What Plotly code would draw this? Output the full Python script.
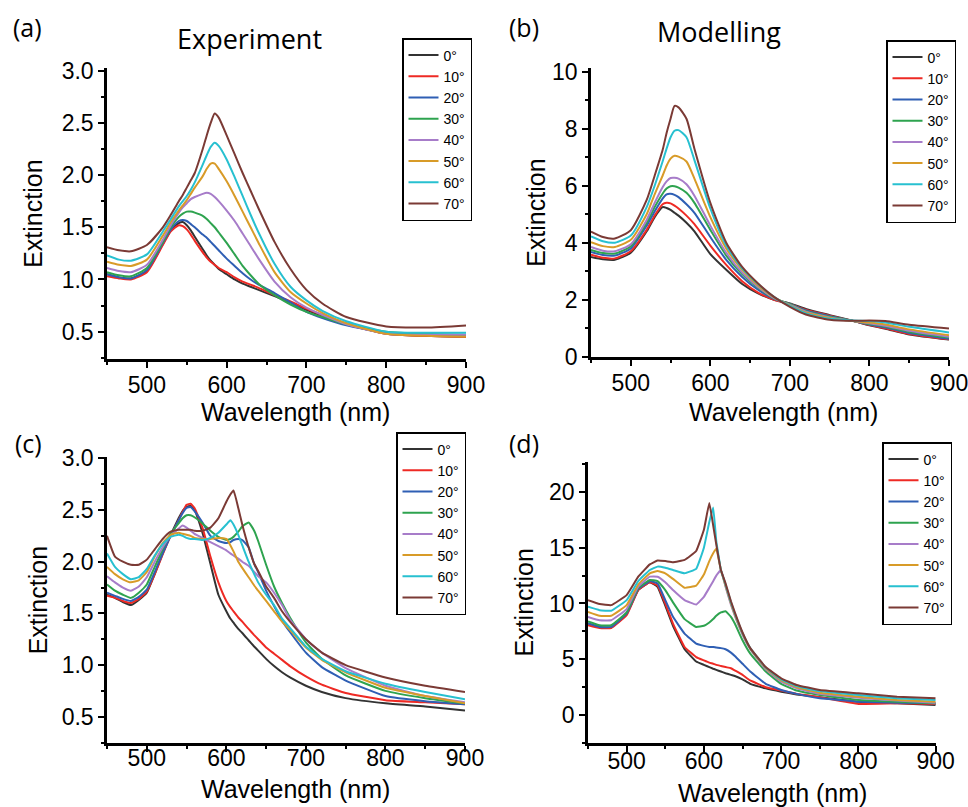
import plotly.graph_objects as go

# ---- shared series info ----
ANGLES = ["0°", "10°", "20°", "30°", "40°", "50°", "60°", "70°"]
COLORS = ["#333333", "#ee2a24", "#2f5fb4", "#2ea34f", "#a77cc9", "#d89b28", "#27c0d0", "#7b3a35"]
X_TITLE = "Wavelength (nm)"
Y_TITLE = "Extinction"

# ---- (a) Experiment, extinction spectra ----
WL_A = [450, 465, 480, 500, 520, 530, 540, 545, 550, 555, 560, 570, 575, 580, 585, 590,
        600, 610, 620, 630, 640, 660, 680, 700, 720, 750, 800, 850, 900]
A_00 = [1.05, 1.02, 1.01, 1.08, 1.34, 1.47, 1.54, 1.55, 1.52, 1.47, 1.41, 1.29, 1.23, 1.18, 1.14, 1.10,
        1.05, 1.00, 0.96, 0.93, 0.90, 0.84, 0.78, 0.71, 0.65, 0.57, 0.48, 0.46, 0.45]
A_10 = [1.03, 1.01, 1.00, 1.07, 1.33, 1.46, 1.52, 1.51, 1.48, 1.43, 1.37, 1.26, 1.21, 1.17, 1.14, 1.11,
        1.07, 1.02, 0.98, 0.95, 0.92, 0.85, 0.79, 0.72, 0.66, 0.58, 0.48, 0.46, 0.45]
A_20 = [1.05, 1.02, 1.01, 1.09, 1.35, 1.48, 1.56, 1.57, 1.56, 1.53, 1.50, 1.43, 1.40, 1.36, 1.32, 1.28,
        1.20, 1.13, 1.06, 1.00, 0.95, 0.87, 0.78, 0.69, 0.63, 0.56, 0.49, 0.47, 0.46]
A_30 = [1.07, 1.04, 1.03, 1.11, 1.36, 1.50, 1.60, 1.63, 1.65, 1.65, 1.64, 1.61, 1.58, 1.54, 1.50, 1.45,
        1.35, 1.24, 1.13, 1.04, 0.96, 0.85, 0.76, 0.69, 0.64, 0.57, 0.50, 0.48, 0.47]
A_40 = [1.11, 1.08, 1.07, 1.14, 1.38, 1.52, 1.64, 1.69, 1.73, 1.77, 1.79, 1.82, 1.83, 1.82, 1.79, 1.75,
        1.66, 1.56, 1.44, 1.32, 1.20, 0.98, 0.83, 0.73, 0.66, 0.57, 0.48, 0.47, 0.47]
A_50 = [1.17, 1.14, 1.13, 1.19, 1.42, 1.55, 1.66, 1.71, 1.76, 1.82, 1.88, 1.99, 2.06, 2.11, 2.11, 2.06,
        1.94, 1.80, 1.65, 1.50, 1.35, 1.07, 0.88, 0.77, 0.68, 0.58, 0.48, 0.46, 0.45]
A_60 = [1.23, 1.19, 1.18, 1.24, 1.46, 1.58, 1.70, 1.75, 1.80, 1.86, 1.93, 2.10, 2.19, 2.27, 2.31, 2.28,
        2.15, 1.98, 1.80, 1.62, 1.45, 1.15, 0.93, 0.80, 0.70, 0.60, 0.50, 0.49, 0.49]
A_70 = [1.31, 1.28, 1.27, 1.33, 1.50, 1.62, 1.75, 1.81, 1.88, 1.95, 2.02, 2.25, 2.38, 2.50, 2.59, 2.55,
        2.38, 2.20, 2.02, 1.85, 1.68, 1.36, 1.10, 0.90, 0.77, 0.64, 0.55, 0.54, 0.56]

# ---- (b) Modelling ----
WL_B = [450, 465, 480, 500, 520, 530, 540, 545, 550, 555, 560, 570, 580, 600, 620, 640,
        660, 680, 700, 720, 750, 780, 800, 820, 850, 900]
B_00 = [3.50, 3.42, 3.40, 3.65, 4.40, 4.90, 5.25, 5.22, 5.15, 5.05, 4.95, 4.70, 4.40, 3.60, 3.05, 2.55,
        2.22, 2.00, 1.87, 1.68, 1.46, 1.25, 1.10, 0.98, 0.78, 0.60]
B_10 = [3.58, 3.47, 3.45, 3.70, 4.45, 4.95, 5.35, 5.40, 5.38, 5.30, 5.20, 4.95, 4.65, 3.90, 3.22, 2.65,
        2.25, 2.00, 1.85, 1.65, 1.44, 1.25, 1.11, 1.00, 0.80, 0.61]
B_20 = [3.68, 3.57, 3.55, 3.80, 4.60, 5.10, 5.55, 5.70, 5.72, 5.68, 5.60, 5.35, 5.05, 4.20, 3.40, 2.80,
        2.35, 2.03, 1.85, 1.62, 1.42, 1.25, 1.13, 1.03, 0.83, 0.63]
B_30 = [3.75, 3.64, 3.62, 3.88, 4.70, 5.25, 5.72, 5.90, 5.98, 5.98, 5.93, 5.75, 5.40, 4.45, 3.55, 2.90,
        2.42, 2.05, 1.84, 1.60, 1.40, 1.25, 1.15, 1.06, 0.87, 0.67]
B_40 = [3.85, 3.72, 3.70, 3.95, 4.80, 5.40, 5.95, 6.15, 6.27, 6.28, 6.25, 6.05, 5.65, 4.60, 3.65, 2.95,
        2.45, 2.06, 1.82, 1.58, 1.38, 1.25, 1.17, 1.09, 0.91, 0.70]
B_50 = [4.02, 3.88, 3.85, 4.10, 5.00, 5.70, 6.35, 6.70, 6.95, 7.05, 7.02, 6.85, 6.25, 4.90, 3.80, 3.05,
        2.50, 2.08, 1.80, 1.55, 1.36, 1.25, 1.20, 1.13, 0.96, 0.75]
B_60 = [4.22, 4.05, 4.00, 4.25, 5.25, 6.00, 6.85, 7.30, 7.70, 7.93, 7.95, 7.70, 6.90, 5.20, 3.90, 3.10,
        2.55, 2.10, 1.78, 1.52, 1.33, 1.27, 1.25, 1.20, 1.05, 0.85]
B_70 = [4.39, 4.20, 4.15, 4.44, 5.50, 6.35, 7.25, 7.85, 8.35, 8.80, 8.75, 8.35, 7.30, 5.40, 4.00, 3.15,
        2.57, 2.10, 1.75, 1.48, 1.30, 1.26, 1.27, 1.25, 1.12, 0.99]

# ---- (c) Experiment ----
WL_C = [450, 460, 470, 480, 490, 500, 510, 520, 530, 540, 545, 550, 555, 560, 570, 580, 590,
        600, 605, 609, 615, 620, 628, 635, 640, 650, 660, 670, 680, 700, 720, 750, 800, 850, 900]
C_00 = [1.68, 1.65, 1.61, 1.58, 1.63, 1.70, 1.88, 2.08, 2.26, 2.42, 2.49, 2.53, 2.54, 2.50, 2.28, 1.98, 1.68,
        1.52, 1.45, 1.41, 1.35, 1.31, 1.24, 1.18, 1.14, 1.06, 0.99, 0.93, 0.88, 0.80, 0.74, 0.68, 0.63, 0.60, 0.56]
C_10 = [1.67, 1.65, 1.62, 1.60, 1.64, 1.71, 1.88, 2.07, 2.25, 2.40, 2.48, 2.55, 2.56, 2.52, 2.33, 2.05, 1.80,
        1.62, 1.56, 1.52, 1.46, 1.42, 1.35, 1.29, 1.25, 1.17, 1.11, 1.05, 0.99, 0.89, 0.81, 0.73, 0.66, 0.64, 0.62]
C_20 = [1.70, 1.67, 1.64, 1.62, 1.66, 1.73, 1.90, 2.08, 2.25, 2.40, 2.47, 2.52, 2.53, 2.49, 2.38, 2.25, 2.20,
        2.18, 2.19, 2.21, 2.22, 2.21, 2.14, 1.98, 1.90, 1.72, 1.57, 1.43, 1.32, 1.12, 0.98, 0.85, 0.70, 0.65, 0.62]
C_30 = [1.78, 1.72, 1.68, 1.65, 1.70, 1.78, 1.95, 2.12, 2.27, 2.37, 2.42, 2.45, 2.45, 2.43, 2.37, 2.30, 2.24,
        2.21, 2.22, 2.24, 2.29, 2.34, 2.38, 2.30, 2.20, 1.97, 1.76, 1.60, 1.46, 1.22, 1.06, 0.90, 0.75, 0.68, 0.63]
C_40 = [1.86, 1.80, 1.75, 1.72, 1.76, 1.85, 2.00, 2.14, 2.25, 2.32, 2.35, 2.33, 2.30, 2.27, 2.23, 2.19, 2.15,
        2.11, 2.08, 2.06, 2.03, 2.00, 1.96, 1.90, 1.86, 1.80, 1.70, 1.58, 1.44, 1.25, 1.12, 0.97, 0.80, 0.70, 0.64]
C_50 = [1.95, 1.88, 1.83, 1.80, 1.82, 1.90, 2.05, 2.18, 2.26, 2.28, 2.27, 2.26, 2.25, 2.23, 2.22, 2.22, 2.23,
        2.22, 2.16, 2.10, 2.00, 1.94, 1.85, 1.77, 1.72, 1.62, 1.52, 1.42, 1.34, 1.17, 1.05, 0.93, 0.78, 0.70, 0.63]
C_60 = [2.08, 1.95, 1.88, 1.83, 1.85, 1.93, 2.06, 2.17, 2.24, 2.26, 2.25, 2.23, 2.22, 2.22, 2.21, 2.23, 2.28,
        2.36, 2.40, 2.36, 2.26, 2.16, 2.00, 1.88, 1.80, 1.68, 1.58, 1.45, 1.36, 1.18, 1.06, 0.94, 0.82, 0.74, 0.67]
C_70 = [2.25, 2.05, 2.00, 1.97, 1.97, 2.02, 2.12, 2.22, 2.29, 2.31, 2.31, 2.31, 2.31, 2.30, 2.30, 2.33, 2.42,
        2.58, 2.65, 2.69, 2.52, 2.36, 2.14, 1.98, 1.91, 1.76, 1.65, 1.52, 1.42, 1.25, 1.12, 1.00, 0.88, 0.80, 0.74]

# ---- (d) Modelling ----
WL_D = [450, 465, 480, 500, 515, 530, 540, 550, 560, 575, 590, 600, 607, 612, 616, 622, 628,
        635, 640, 650, 660, 680, 700, 720, 750, 800, 850, 900]
D_00 = [8.20, 7.90, 7.85, 9.05, 11.2, 11.9, 11.5, 9.80, 8.00, 5.90, 4.80, 4.50, 4.30, 4.15, 4.05, 3.90, 3.75,
        3.60, 3.50, 3.20, 2.80, 2.40, 2.10, 1.85, 1.60, 1.20, 1.05, 0.90]
D_10 = [8.05, 7.80, 7.80, 8.95, 11.2, 11.9, 11.6, 10.0, 8.20, 6.10, 5.20, 4.90, 4.70, 4.60, 4.50, 4.40, 4.30,
        4.20, 4.00, 3.60, 3.10, 2.50, 2.20, 1.90, 1.60, 1.00, 1.05, 1.00]
D_20 = [8.20, 7.90, 7.90, 9.10, 11.3, 12.0, 11.8, 10.3, 8.80, 7.30, 6.40, 6.20, 6.10, 6.10, 6.05, 6.00, 5.90,
        5.60, 5.30, 4.60, 3.90, 2.80, 2.25, 1.90, 1.50, 1.20, 1.10, 1.05]
D_30 = [8.40, 8.05, 8.05, 9.20, 11.4, 12.1, 12.0, 11.2, 10.1, 8.60, 7.90, 8.00, 8.30, 8.60, 8.90, 9.20, 9.30,
        8.80, 8.20, 6.70, 5.50, 3.90, 2.80, 2.20, 1.80, 1.35, 1.20, 1.05]
D_40 = [8.80, 8.50, 8.50, 9.50, 11.5, 12.4, 12.4, 11.9, 11.2, 10.3, 9.90, 10.6, 11.4, 12.0, 12.5, 13.0, 11.5,
        9.90, 8.90, 7.20, 5.90, 4.10, 3.00, 2.40, 1.90, 1.55, 1.30, 1.10]
D_50 = [9.25, 8.90, 8.90, 9.85, 11.7, 12.7, 12.9, 12.7, 12.2, 11.4, 11.6, 12.6, 13.8, 14.5, 14.9, 13.0, 11.6,
        10.0, 9.00, 7.30, 5.95, 4.20, 3.10, 2.50, 2.00, 1.65, 1.35, 1.20]
D_60 = [9.70, 9.40, 9.35, 10.3, 12.0, 13.0, 13.3, 13.2, 13.0, 12.7, 13.1, 15.0, 17.3, 18.6, 15.6, 13.0, 11.7,
        10.1, 9.10, 7.35, 6.00, 4.25, 3.20, 2.60, 2.15, 1.80, 1.50, 1.35]
D_70 = [10.3, 9.95, 9.85, 10.75, 12.4, 13.5, 13.85, 13.8, 13.7, 13.9, 14.7, 16.6, 19.0, 17.0, 15.3, 13.0, 11.8,
        10.2, 9.20, 7.40, 6.00, 4.30, 3.30, 2.70, 2.25, 1.95, 1.65, 1.50]

# (wavelengths, series, x axis, y axis, legend, spline smoothing)
PANELS = [
    (WL_A, [A_00, A_10, A_20, A_30, A_40, A_50, A_60, A_70], "x", "y", "legend", 0.6),
    (WL_B, [B_00, B_10, B_20, B_30, B_40, B_50, B_60, B_70], "x2", "y2", "legend2", 0.6),
    (WL_C, [C_00, C_10, C_20, C_30, C_40, C_50, C_60, C_70], "x3", "y3", "legend3", 0.4),
    (WL_D, [D_00, D_10, D_20, D_30, D_40, D_50, D_60, D_70], "x4", "y4", "legend4", 0.3),
]

fig = go.Figure()
for wl, series, xa, ya, lg, smooth in PANELS:
    for name, color, vals in zip(ANGLES, COLORS, series):
        fig.add_trace(go.Scatter(
            x=wl, y=vals, mode="lines", name=name, xaxis=xa, yaxis=ya, legend=lg,
            line=dict(color=color, width=2, shape="spline", smoothing=smooth),
        ))

W, H = 968, 807
TICK_FONT = dict(family="Liberation Sans, Arial, sans-serif", size=23, color="black")
TITLE_FONT = dict(family="Liberation Sans, Arial, sans-serif", size=25, color="black")
LABEL_FONT = dict(family="Open Sans, sans-serif", size=25, color="black")


def x_axis(left, right, anchor, label_shift):
    return dict(
        domain=[left / W, right / W], anchor=anchor, range=[450, 900],
        tickvals=[500, 600, 700, 800, 900], ticks="outside", ticklen=6, tickwidth=2,
        tickcolor="black", showline=True, linewidth=2.5, linecolor="black",
        showgrid=False, zeroline=False, tickfont=TICK_FONT,
        ticklabeloverflow="allow", ticklabelstandoff=label_shift,
        minor=dict(ticks="outside", ticklen=3, tickwidth=1.5, tickcolor="black",
                   tick0=450, dtick=100, showgrid=False),
    )


def y_axis(top, bottom, anchor, rng, tickvals, fmt, minor_dtick, minor0, standoff):
    return dict(
        domain=[1 - bottom / H, 1 - top / H], anchor=anchor, range=rng,
        tickvals=tickvals, tickformat=fmt, ticks="outside", ticklen=6, tickwidth=2,
        tickcolor="black", showline=True, linewidth=2.5, linecolor="black",
        showgrid=False, zeroline=False, tickfont=TICK_FONT,
        minor=dict(ticks="outside", ticklen=3, tickwidth=1.5, tickcolor="black",
                   tick0=minor0, dtick=minor_dtick, showgrid=False),
        title=dict(text=Y_TITLE, font=TITLE_FONT, standoff=standoff),
    )


def legend_at(left, top):
    return dict(
        x=left / W, y=1 - top / H, xanchor="left", yanchor="top",
        bgcolor="white", bordercolor="black", borderwidth=1.5,
        font=dict(family="Liberation Sans, Arial, sans-serif", size=14, color="black"),
        tracegroupgap=0,
    )


fig.update_layout(
    width=W, height=H, margin=dict(l=0, r=0, t=0, b=0, autoexpand=False),
    paper_bgcolor="white", plot_bgcolor="white", showlegend=True,
    xaxis=x_axis(107, 466, "y", -2),
    yaxis=y_axis(68.3, 359, "x", [0.238, 3.023], [0.5, 1.0, 1.5, 2.0, 2.5, 3.0], ".1f", 0.5, 0.25, 12),
    xaxis2=x_axis(591, 949, "y2", -2),
    yaxis2=y_axis(68.3, 357, "x2", [-0.01, 10.12], [0, 2, 4, 6, 8, 10], "d", 2, 1, 0),
    xaxis3=x_axis(107, 465, "y3", -13),
    yaxis3=y_axis(457.3, 743, "x3", [0.246, 3.01], [0.5, 1.0, 1.5, 2.0, 2.5, 3.0], ".1f", 0.5, 0.25, 7),
    xaxis4=x_axis(588, 935.7, "y4", -10),
    yaxis4=y_axis(461.7, 743, "x4", [-2.5, 22.7], [0, 5, 10, 15, 20], "d", 5, 2.5, 9),
    legend=legend_at(402, 38),
    legend2=legend_at(886, 40),
    legend3=legend_at(396, 432),
    legend4=legend_at(882, 442),
)


def place_text(text, cx, cy, font):
    fig.add_annotation(text=text, x=cx / W, y=1 - cy / H, xref="paper", yref="paper",
                       xanchor="center", yanchor="middle", showarrow=False, font=font)


# wavelength axis titles under each panel
for cx, cy in [(295, 412), (783, 412), (295, 789), (772, 793)]:
    place_text(X_TITLE, cx, cy, TITLE_FONT)

# panel letters and column headings
for text, cx, cy, size in [("(a)", 27, 27, 25), ("(b)", 524, 27, 25), ("(c)", 28, 443, 25),
                           ("(d)", 524, 443, 25), ("Experiment", 250, 38, 27), ("Modelling", 719, 32, 27)]:
    place_text(text, cx, cy, dict(LABEL_FONT, size=size))

fig.write_html("out.html")
